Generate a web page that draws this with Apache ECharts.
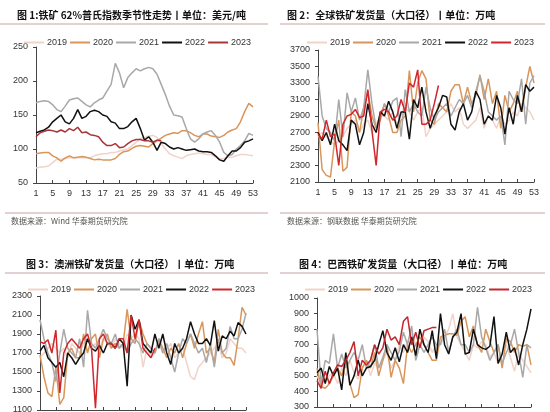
<!DOCTYPE html>
<html>
<head>
<meta charset="utf-8">
<script src="https://cdn.jsdelivr.net/npm/echarts@6/dist/echarts.min.js"></script>
<style>
  html, body { margin: 0; padding: 0; background: #fff; }
  #main { width: 550px; height: 412px; }
</style>
</head>
<body>
<div id="main"></div>
<script>
// week numbers on the x axis
var weeks = ['1','2','3','4','5','6','7','8','9','10','11','12','13','14','15','16','17','18','19','20',
  '21','22','23','24','25','26','27','28','29','30','31','32','33','34','35','36','37','38','39','40',
  '41','42','43','44','45','46','47','48','49','50','51','52','53'];
var years = ['2019', '2020', '2021', '2022', '2023'];

// chart 1: 62% Platts index, USD/t
var platts2019 = [72,73,74,75,80,85,85,86,87,87,87,87,87,87,90,92,93,93,95,95,97,99,100,105,110,115,117,119,120,117,
  108,100,93,90,88,86,90,92,93,94,93,92,92,88,85,86,88,88,90,92,92,91,90];
var platts2020 = [93,94,95,95,90,87,82,87,90,87,88,89,88,86,84,85,84,84,84,86,92,96,97,101,104,105,104,103,108,112,
  116,120,122,124,123,127,127,124,120,118,122,122,119,118,117,120,125,128,130,140,155,167,162];
var platts2021 = [168,170,171,170,165,158,155,163,172,174,175,170,165,162,168,172,175,185,195,226,212,190,205,212,218,215,218,220,218,210,
  195,180,163,150,149,147,130,115,110,115,122,125,127,120,110,95,90,92,100,105,112,123,120];
var platts2022 = [124,126,128,132,140,145,150,140,137,145,158,145,148,155,157,155,150,148,140,138,130,130,133,140,145,130,113,118,110,98,
  110,108,103,100,102,100,98,99,100,97,96,96,95,90,84,82,90,97,97,102,110,112,115];
var platts2023 = [118,124,126,128,127,125,128,125,130,127,132,124,125,121,120,118,110,105,105,108,102,103,108,112,114,114,112,112,110,113,112];

// chart 2: global shipments, 10kt
var global2019 = [2650,2700,2650,2600,2550,2600,2650,2750,2800,2850,2700,2800,2850,2700,2800,2900,2900,2850,2950,2800,
  2900,3000,2950,2850,2950,3000,2650,2750,2800,2850,2900,2950,3050,2950,3000,2800,2750,2800,2850,3000,
  2750,2900,2850,2750,2900,2800,2850,2950,2900,3050,3000,2950,2850];
var global2020 = [2820,2250,2180,2160,2600,2850,2230,2280,2950,2900,2700,3000,3200,2900,2750,2850,3050,2900,2700,2700,
  2850,2900,3450,2950,3300,3450,3350,2850,2800,3050,3000,2950,3200,3280,3280,3050,3250,3050,3150,3400,
  3100,3350,3050,3200,2750,3150,2950,3050,3200,2950,3250,3500,3300];
var global2021 = [3380,2900,2750,2700,2600,3100,2650,3180,2950,3120,2850,3000,3460,3050,2750,2900,3050,2950,3080,3120,
  2650,3220,2950,3050,2950,2900,3250,3000,2850,2950,3000,3050,2900,3000,3100,3050,3150,3000,3200,3380,
  3200,2950,2900,2850,2900,2550,3200,3100,3050,3350,2800,3300,3390];
var global2022 = [2700,2600,2700,2550,2800,2600,2550,2480,2850,2800,2550,2700,3050,2800,2700,2950,2900,3080,2950,2750,
  2950,2950,2620,3100,3000,3250,2950,2750,2900,3000,3150,3130,2800,2730,2950,3050,2850,2950,3200,3100,
  2800,2900,2850,3150,3000,2680,3000,2800,3150,2950,3280,3200,3250];
var global2023 = [2680,2620,2850,2650,2680,2300,2800,2900,2920,2980,2880,2900,3220,2720,2300,2950,2980,2950,2850,2900,
  3100,2950,3300,3250,3460,2800,2800,2850,3050,3270];

// chart 3: Australia shipments, 10kt
var aus2019 = [1650,1700,1750,1800,1750,1700,1750,1650,1800,1750,1700,1800,1850,1750,1800,1750,1850,1800,1750,1850,
  1800,1750,1900,1850,1900,1850,1550,1750,1650,1700,1800,1700,1750,1800,1650,1700,1750,1600,1450,1420,
  1550,1600,1650,1700,1750,1800,1650,1700,1850,1800,1750,1750,1700];
var aus2020 = [1680,1450,1280,1240,1550,1160,1230,1700,1750,1650,1650,1900,1700,1850,1900,1650,1850,1900,1750,1800,
  1750,1800,2160,1850,1800,2050,1900,1800,1750,1700,1850,1750,1650,1750,1700,1800,1650,1800,1900,1750,
  1900,2030,1700,1750,1600,1950,1700,1650,1650,1570,1850,2180,2100];
var aus2021 = [2050,1850,1700,1600,1400,1700,1950,1750,1700,1650,1850,1550,2150,1800,1750,1850,1950,1850,1800,1900,
  1750,1800,1700,1800,1850,1800,1700,1800,1750,1700,1850,1700,1800,1650,1500,1700,1850,1800,1900,1800,
  1700,1750,1600,1800,1550,1850,1700,1750,1980,1850,1850,1950,2120];
var aus2022 = [1720,1780,1650,1600,1550,1600,1450,1700,1650,1580,1650,1700,1850,1750,1720,1780,1700,1800,1800,1750,
  1850,1800,1350,2100,1950,2050,1800,1750,1700,1900,1750,1900,1700,1580,1800,1700,1750,1850,2030,1900,
  1800,1800,1850,1780,2040,1720,1880,1850,1930,1880,2020,1980,1900];
var aus2023 = [1820,1800,1840,1700,1940,1280,1700,1800,1850,1800,1750,1850,1900,1750,1120,1850,1900,1800,1800,1750,
  1850,1850,1700,2100,1850,2050,1750,1700,1650,1750];

// chart 4: Brazil shipments, 10kt
var bra2019 = [500,450,480,500,520,450,550,500,600,520,480,550,600,500,580,550,600,650,550,600,
  700,650,720,780,700,680,750,720,650,700,700,750,800,900,750,700,650,600,700,680,
  720,700,620,650,580,650,700,620,530,650,600,560,520];
var bra2020 = [550,430,420,450,500,550,500,600,450,360,380,550,600,550,650,500,600,700,490,600,
  550,450,700,650,700,750,700,650,600,600,750,760,770,770,760,850,880,750,820,700,
  650,800,720,650,700,550,740,720,650,700,690,700,570];
var bra2021 = [800,450,600,580,770,550,640,550,600,650,600,700,550,600,700,550,620,700,650,600,
  660,780,700,820,600,700,650,700,750,700,700,800,650,750,800,700,700,650,700,940,
  750,680,600,650,700,580,650,700,800,650,490,700,680];
var bra2022 = [520,550,450,560,500,550,410,650,440,500,600,500,550,560,600,700,790,650,600,680,
  590,700,650,750,630,800,700,650,790,610,900,700,640,750,780,900,640,650,800,700,
  680,670,690,880,580,640,780,650,680,570,700,800,930];
var bra2023 = [470,420,530,450,520,570,560,600,650,720,500,600,570,600,700,640,680,800,730,750,
  700,850,880,700,780,680,790,800,810,810];

var colors = ['#f1d3ca', '#d9965a', '#a8a8a8', '#111111', '#c4262c'];
var ink = '#333';
var rule = '#c4a3a0';

function makeSeries(idx, list, red) {
  var out = [];
  for (var i = 0; i < list.length; i++) {
    out.push({
      name: years[i],
      type: 'line',
      xAxisIndex: idx,
      yAxisIndex: idx,
      data: list[i],
      symbol: 'none',
      smooth: false,
      lineStyle: { width: 1.5, color: (i === 4 ? red : colors[i]) },
      itemStyle: { color: (i === 4 ? red : colors[i]) },
      z: 2 + i
    });
  }
  return out;
}

function makeLegend(idx, left, top, red) {
  var items = [];
  for (var i = 0; i < years.length; i++) {
    var c = (i === 4 ? red : colors[i]);
    items.push({ name: years[i], itemStyle: { color: c }, lineStyle: { color: c } });
  }
  return {
    left: left, top: top, width: 300, padding: 0,
    icon: 'rect', itemWidth: 20, itemHeight: 2, itemGap: 3,
    data: items,
    selectedMode: false,
    textStyle: { fontSize: 9, color: ink, fontFamily: 'Liberation Sans, Arial', padding: [0, 0, 0, -2] }
  };
}

function makeX(idx) {
  return {
    type: 'category', gridIndex: idx, data: weeks, boundaryGap: false,
    axisLine: { lineStyle: { color: '#444', width: 1 } },
    axisTick: { interval: 3, inside: true, length: 3, lineStyle: { color: '#444' } },
    axisLabel: { interval: 3, fontSize: 9, color: ink, margin: 6, fontFamily: 'Liberation Sans, Arial' }
  };
}

function makeY(idx, min, max, step) {
  return {
    type: 'value', gridIndex: idx, min: min, max: max, interval: step,
    axisLine: { show: true, lineStyle: { color: '#444', width: 1 } },
    axisTick: { show: true, length: 3, lineStyle: { color: '#444' } },
    splitLine: { show: false },
    axisLabel: {
      fontSize: 9, color: ink, margin: 8, fontFamily: 'Liberation Sans, Arial',
      formatter: function (v) { return String(v); }
    }
  };
}

var titleFont = { fontSize: 10, fontWeight: 'bold', color: '#111', fontFamily: 'Noto Sans CJK SC' };
var srcFont = { fontSize: 8, fontWeight: 'normal', color: '#555', fontFamily: 'Noto Sans CJK SC' };

var chart = echarts.init(document.getElementById('main'));
var series = [].concat(
  makeSeries(0, [platts2019, platts2020, platts2021, platts2022, platts2023], '#a8353a'),
  makeSeries(1, [global2019, global2020, global2021, global2022, global2023], '#d0262c'),
  makeSeries(2, [aus2019, aus2020, aus2021, aus2022, aus2023], '#d0262c'),
  makeSeries(3, [bra2019, bra2020, bra2021, bra2022, bra2023], '#c4262c')
);

var option = {
  backgroundColor: '#fff',
  animation: false,
  title: [
    { text: '图 1:铁矿 62%普氏指数季节性走势丨单位：美元/吨', left: 17, top: 10, padding: 0, textStyle: titleFont },
    { text: '图 2：全球铁矿发货量（大口径）丨单位：万吨', left: 287, top: 10, padding: 0, textStyle: titleFont },
    { text: '图 3：澳洲铁矿发货量（大口径）丨单位：万吨', left: 26, top: 259, padding: 0, textStyle: titleFont },
    { text: '图 4：巴西铁矿发货量（大口径）丨单位：万吨', left: 299, top: 259, padding: 0, textStyle: titleFont },
    { text: '数据来源：Wind 华泰期货研究院', left: 11, top: 217, padding: 0, textStyle: srcFont },
    { text: '数据来源：钢联数据 华泰期货研究院', left: 287, top: 217, padding: 0, textStyle: srcFont }
  ],
  legend: [
    makeLegend(0, 24, 38, '#a8353a'),
    makeLegend(1, 307, 38, '#d0262c'),
    makeLegend(2, 28, 285, '#d0262c'),
    makeLegend(3, 305, 285, '#c4262c')
  ],
  grid: [
    { left: 36, right: 297, top: 47, bottom: 229, outerBoundsMode: 'none' },
    { left: 318, right: 16, top: 50, bottom: 230, outerBoundsMode: 'none' },
    { left: 40, right: 304, top: 296, bottom: 2, outerBoundsMode: 'none' },
    { left: 317, right: 19, top: 298, bottom: 5, outerBoundsMode: 'none' }
  ],
  xAxis: [makeX(0), makeX(1), makeX(2), makeX(3)],
  yAxis: [
    makeY(0, 50, 250, 50),
    makeY(1, 2100, 3700, 200),
    makeY(2, 1100, 2300, 200),
    makeY(3, 300, 1000, 100)
  ],
  graphic: [
    { type: 'line', shape: { x1: 0, y1: 24, x2: 268, y2: 24 }, style: { stroke: rule, lineWidth: 1 } },
    { type: 'line', shape: { x1: 280, y1: 24, x2: 545, y2: 24 }, style: { stroke: rule, lineWidth: 1 } },
    { type: 'line', shape: { x1: 5, y1: 213, x2: 268, y2: 213 }, style: { stroke: rule, lineWidth: 1 } },
    { type: 'line', shape: { x1: 280, y1: 213, x2: 545, y2: 213 }, style: { stroke: rule, lineWidth: 1 } },
    { type: 'line', shape: { x1: 5, y1: 273, x2: 268, y2: 273 }, style: { stroke: rule, lineWidth: 1 } },
    { type: 'line', shape: { x1: 280, y1: 273, x2: 545, y2: 273 }, style: { stroke: rule, lineWidth: 1 } }
  ],
  series: series
};

chart.setOption(option);
</script>
</body>
</html>
